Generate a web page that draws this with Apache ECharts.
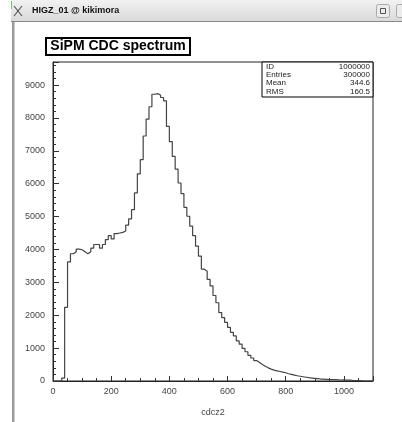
<!DOCTYPE html>
<html><head><meta charset="utf-8">
<script src="https://cdn.jsdelivr.net/npm/echarts@6/dist/echarts.min.js"></script>
<style>html,body{margin:0;padding:0;background:#fff;}#c{width:402px;height:422px;}</style>
</head><body><div id="c"></div>
<script>
// Histogram definition (HBOOK id 1000000, variable cdcz2)
const BIN_WIDTH = 10;
const X_MIN = 0;
const X_MAX = 1100;
const Y_MAX = 9700;
const counts = [
  0, 0, 0, 90, 2240, 3620, 3870, 3930, 4010, 3990,
  3930, 3870, 3930, 4040, 4150, 4150, 4040, 4150, 4300, 4420,
  4320, 4480, 4500, 4520, 4560, 4740, 4930, 5210, 5720, 6300,
  6730, 7450, 7960, 8340, 8720, 8740, 8690, 8620, 8520, 7740,
  7280, 6830, 6440, 6020, 5700, 5280, 5010, 4710, 4420, 4100,
  3800, 3400, 3340, 3090, 2890, 2600, 2380, 2080, 1930, 1780,
  1630, 1480, 1370, 1220, 1120, 990, 890, 780, 700, 620,
  560, 500, 450, 400, 360, 330, 310, 290, 270, 250,
  220, 200, 180, 160, 145, 130, 115, 100, 90, 80,
  70, 60, 55, 50, 45, 40, 40, 35, 30, 35,
  25, 30, 20, 15, 10, 5, 0, 0, 0, 0
];
const xTickLabels = [0, 200, 400, 600, 800, 1000];
const yTickLabels = [0, 1000, 2000, 3000, 4000, 5000, 6000, 7000, 8000, 9000];
const statsNames = ['ID', 'Entries', 'Mean', 'RMS'];
const statsValues = ['1000000', '300000', '344.6', '160.5'];
const chartTitle = 'SiPM CDC spectrum';
const windowTitle = 'HIGZ_01 @ kikimora';
const xName = 'cdcz2';

const histData = counts.map((c, i) => [X_MIN + i * BIN_WIDTH, c]);
histData.push([X_MAX, counts[counts.length - 1]]);

const FONT = 'Liberation Sans, Arial, Helvetica, sans-serif';
const G = {left: 53, top: 62, width: 320, height: 320};

const chart = echarts.init(document.getElementById('c'), null, {renderer: 'canvas'});

const statsChildren = [];
statsChildren.push({type: 'rect', shape: {x: 262, y: 62, width: 111, height: 35},
  style: {fill: '#fff', stroke: '#000', lineWidth: 1}, z: 10});
statsNames.forEach((n, i) => {
  statsChildren.push({type: 'text', x: 266, y: 66.5 + i * 8.3, z: 11,
    style: {text: n, font: '8px ' + FONT, fill: '#222', verticalAlign: 'middle', align: 'left'}});
  statsChildren.push({type: 'text', x: 370, y: 66.5 + i * 8.3, z: 11,
    style: {text: statsValues[i], font: '8px ' + FONT, fill: '#222', verticalAlign: 'middle', align: 'right'}});
});

const hiddenLine = {show: true, onZero: false, lineStyle: {color: 'rgba(0,0,0,0)', width: 0}};

chart.setOption({
  animation: false,
  backgroundColor: '#fff',
  grid: {left: G.left, top: G.top, width: G.width, height: G.height, show: true,
    borderColor: '#222', borderWidth: 1, backgroundColor: 'transparent', containLabel: false},
  xAxis: [{
    type: 'value', min: X_MIN, max: X_MAX, interval: 200, position: 'bottom',
    name: xName, nameLocation: 'middle', nameGap: 27,
    nameTextStyle: {fontFamily: FONT, fontSize: 9, color: '#444'},
    axisLine: {show: true, onZero: false, lineStyle: {color: '#222', width: 1}},
    axisTick: {show: true, inside: true, length: 5, lineStyle: {color: '#333'}},
    splitLine: {show: false},
    axisLabel: {fontFamily: FONT, fontSize: 9, color: '#444', margin: 6,
      formatter: v => xTickLabels.indexOf(v) >= 0 ? String(v) : ''}
  }, {
    type: 'value', min: X_MIN, max: X_MAX, interval: 50, position: 'bottom', offset: 0,
    axisLine: hiddenLine, axisLabel: {show: false}, splitLine: {show: false},
    axisTick: {show: true, inside: true, length: 3, lineStyle: {color: '#333', width: 1}}
  }],
  yAxis: [{
    type: 'value', min: 0, max: Y_MAX, interval: 1000, position: 'left',
    axisLine: {show: true, onZero: false, lineStyle: {color: '#222', width: 1}},
    axisTick: {show: true, inside: true, length: 6, lineStyle: {color: '#333'}},
    splitLine: {show: false},
    axisLabel: {fontFamily: FONT, fontSize: 9, color: '#444', margin: 8,
      formatter: v => yTickLabels.indexOf(v) >= 0 ? String(v) : ''}
  }, {
    type: 'value', min: 0, max: Y_MAX, interval: 200, position: 'left', offset: 0,
    axisLine: hiddenLine, axisLabel: {show: false}, splitLine: {show: false},
    axisTick: {show: true, inside: true, length: 3, lineStyle: {color: '#333', width: 1}}
  }],
  series: [{
    type: 'line', step: 'end', xAxisIndex: 0, yAxisIndex: 0,
    data: histData, showSymbol: false, symbol: 'none',
    lineStyle: {color: '#444', width: 1.2}, z: 5
  }],
  graphic: [
    {type: 'rect', shape: {x: 11, y: 0, width: 391, height: 22}, z: 1,
      style: {fill: new echarts.graphic.LinearGradient(0, 0, 0, 1,
        [{offset: 0, color: '#f2f2f2'}, {offset: 1, color: '#d9d9d9'}])}},
    {type: 'line', shape: {x1: 11, y1: 21.5, x2: 402, y2: 21.5}, z: 2, style: {stroke: '#888', lineWidth: 1}},
    {type: 'line', shape: {x1: 11.5, y1: 1, x2: 11.5, y2: 9}, z: 2, style: {stroke: '#6c6', lineWidth: 1}},
    {type: 'line', shape: {x1: 14, y1: 6, x2: 22, y2: 16}, z: 2, style: {stroke: '#555', lineWidth: 1.2}},
    {type: 'line', shape: {x1: 22, y1: 6, x2: 14, y2: 16}, z: 2, style: {stroke: '#555', lineWidth: 1.2}},
    {type: 'text', x: 32, y: 11, z: 2, style: {text: windowTitle, font: 'bold 9px ' + FONT, fill: '#111', verticalAlign: 'middle'}},
    {type: 'rect', shape: {x: 376.5, y: 4.5, width: 13, height: 13, r: 2}, z: 2, style: {fill: '#ececec', stroke: '#aaa', lineWidth: 1}},
    {type: 'rect', shape: {x: 380.5, y: 8.5, width: 5, height: 5}, z: 3, style: {fill: 'none', stroke: '#555', lineWidth: 1}},
    {type: 'rect', shape: {x: 396.5, y: 4.5, width: 13, height: 13, r: 2}, z: 2, style: {fill: '#ececec', stroke: '#aaa', lineWidth: 1}},
    {type: 'rect', shape: {x: 12, y: 22, width: 2.5, height: 400}, z: 2, style: {fill: '#9a9a9a'}},
    {type: 'rect', shape: {x: 46, y: 38, width: 144, height: 17}, z: 3, style: {fill: '#fff', stroke: '#000', lineWidth: 2}},
    {type: 'text', x: 118, y: 46.5, z: 4, style: {text: chartTitle, font: 'bold 14px ' + FONT, fill: '#000', align: 'center', verticalAlign: 'middle'}},
    {type: 'group', children: statsChildren}
  ]
});
</script>
</body></html>
